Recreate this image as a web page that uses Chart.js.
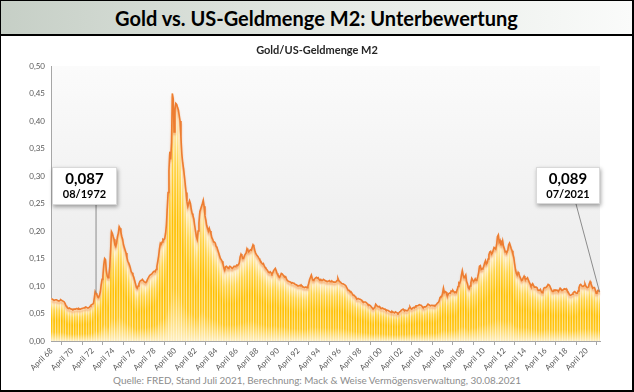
<!DOCTYPE html>
<html><head><meta charset="utf-8">
<script src="https://cdn.jsdelivr.net/npm/chart.js@4"></script>
<style>
html,body{margin:0;padding:0;background:#fff;}
#frame{position:relative;width:631px;height:389px;border:1px solid #000;border-right-width:2px;border-bottom-width:2px;overflow:hidden;font-family:Lato,'Open Sans',sans-serif;background:#fff;}
#header{position:absolute;left:0;top:0;width:631px;height:33px;border-bottom:2px solid #000;background:linear-gradient(90deg,#c6cfc6 0%,#e3e8e3 50%,#fafbfa 100%);text-align:center;line-height:34px;font-weight:700;font-size:20px;color:#000;}
#chartBox{position:absolute;left:0;top:35px;width:632px;height:335px;}
#source{position:absolute;left:0;top:373px;width:632px;text-align:center;font-size:9.9px;color:#8c8c8c;}
</style>
</head><body>
<div id="frame">
  <div id="header">Gold vs. US-Geldmenge M2: Unterbewertung</div>
  <div id="chartBox"><canvas id="c"></canvas></div>
  <div id="source">Quelle: FRED, Stand Juli 2021, Berechnung: Mack &amp; Weise Vermögensverwaltung, 30.08.2021</div>
</div>
<script>
// Monthly ratio gold price / US money supply M2, April 1968 – July 2021
const ratio1968to1979 = [
  0.077,0.076,0.075,0.074,0.074,0.075,0.075,0.074,0.073,
  0.073,0.074,0.075,0.074,0.073,0.072,0.071,0.068,0.064,0.062,0.060,0.059,
  0.060,0.059,0.058,0.058,0.057,0.058,0.058,0.058,0.059,0.059,0.058,0.059,
  0.058,0.058,0.059,0.059,0.060,0.060,0.061,0.062,0.061,0.060,0.060,0.061,
  0.063,0.065,0.066,0.067,0.068,0.078,0.090,0.087,0.084,0.080,0.079,0.083,
  0.089,0.102,0.112,0.118,0.138,0.150,0.148,0.128,0.118,0.115,0.120,0.135,
  0.165,0.199,0.196,0.190,0.185,0.175,0.172,0.178,0.190,0.196,0.208,0.205,
  0.198,0.190,0.185,0.175,0.170,0.165,0.160,0.152,0.145,0.142,0.138,0.133,
  0.126,0.124,0.120,0.116,0.110,0.104,0.098,0.096,0.100,0.104,0.108,0.110,
  0.110,0.112,0.110,0.108,0.107,0.106,0.108,0.112,0.115,0.118,0.120,0.120,
  0.122,0.124,0.126,0.127,0.126,0.130,0.136,0.145,0.155,0.168,0.178,0.176,
  0.180,0.185,0.184,0.186,0.195,0.210,0.240,0.270,0.310,0.344,0.330,0.360
];
const ratio1980s = [
  0.450,0.440,0.380,0.420,0.432,0.430,0.425,0.420,0.410,0.400,0.370,0.340,
  0.325,0.314,0.300,0.285,0.270,0.253,0.245,0.250,0.255,0.250,0.240,0.232,
  0.228,0.222,0.210,0.200,0.190,0.185,0.200,0.215,0.235,0.240,0.245,0.250,
  0.256,0.245,0.228,0.220,0.210,0.205,0.200,0.205,0.200,0.195,0.188,0.185,
  0.180,0.180,0.178,0.172,0.170,0.165,0.160,0.155,0.150,0.148,0.145,0.140,
  0.133,0.129,0.135,0.136,0.134,0.132,0.134,0.136,0.135,0.133,0.132,0.134,
  0.136,0.135,0.136,0.138,0.137,0.139,0.142,0.153,0.158,0.155,0.150,0.150,
  0.155,0.158,0.160,0.168,0.165,0.162,0.164,0.166,0.165,0.170,0.175,0.172,
  0.165,0.160,0.157,0.155,0.153,0.150,0.147,0.145,0.142,0.140,0.141,0.137,
  0.134,0.132,0.130,0.128,0.125,0.124,0.126,0.124,0.122,0.124,0.128,0.130
];
const ratio1990s = [
  0.132,0.128,0.123,0.120,0.118,0.116,0.119,0.123,0.122,0.120,0.118,0.116,
  0.117,0.113,0.110,0.109,0.108,0.108,0.107,0.105,0.106,0.105,0.105,0.103,
  0.103,0.102,0.100,0.100,0.101,0.100,0.102,0.100,0.099,0.098,0.097,0.098,
  0.098,0.097,0.100,0.105,0.112,0.116,0.120,0.114,0.110,0.111,0.113,0.115,
  0.116,0.114,0.115,0.112,0.111,0.112,0.110,0.110,0.112,0.111,0.110,0.109,
  0.109,0.108,0.109,0.110,0.108,0.108,0.109,0.108,0.107,0.107,0.107,0.108,
  0.110,0.114,0.110,0.108,0.107,0.105,0.104,0.104,0.103,0.102,0.101,0.098,
  0.095,0.092,0.092,0.090,0.090,0.088,0.085,0.083,0.083,0.081,0.079,0.076,
  0.077,0.077,0.076,0.076,0.075,0.073,0.072,0.070,0.071,0.071,0.070,0.068,
  0.066,0.066,0.065,0.064,0.062,0.060,0.058,0.058,0.061,0.067,0.065,0.063
];
const ratio2000s = [
  0.062,0.063,0.061,0.060,0.059,0.060,0.059,0.058,0.058,0.056,0.056,0.056,
  0.055,0.054,0.053,0.052,0.054,0.053,0.052,0.051,0.053,0.052,0.051,0.050,
  0.051,0.053,0.054,0.056,0.057,0.058,0.056,0.055,0.056,0.055,0.055,0.057,
  0.060,0.062,0.059,0.058,0.060,0.061,0.060,0.062,0.064,0.064,0.064,0.065,
  0.066,0.065,0.065,0.063,0.061,0.061,0.062,0.062,0.063,0.065,0.067,0.066,
  0.065,0.064,0.065,0.065,0.064,0.065,0.064,0.065,0.067,0.069,0.070,0.073,
  0.079,0.081,0.081,0.087,0.096,0.088,0.090,0.089,0.084,0.083,0.086,0.087,
  0.087,0.091,0.090,0.092,0.090,0.088,0.089,0.088,0.093,0.099,0.106,0.105,
  0.110,0.120,0.128,0.120,0.115,0.117,0.120,0.108,0.104,0.097,0.095,0.100,
  0.106,0.114,0.111,0.108,0.110,0.113,0.110,0.111,0.117,0.124,0.136,0.137
];
const ratio2010s = [
  0.130,0.131,0.132,0.136,0.142,0.146,0.140,0.142,0.149,0.157,0.162,0.163,
  0.158,0.160,0.165,0.170,0.170,0.167,0.175,0.190,0.193,0.180,0.183,0.175,
  0.175,0.182,0.172,0.168,0.162,0.163,0.162,0.165,0.175,0.178,0.173,0.168,
  0.164,0.158,0.152,0.140,0.130,0.123,0.120,0.125,0.122,0.117,0.114,0.110,
  0.111,0.115,0.118,0.114,0.113,0.113,0.115,0.111,0.107,0.104,0.100,0.101,
  0.104,0.101,0.098,0.098,0.098,0.097,0.093,0.092,0.092,0.094,0.090,0.088,
  0.090,0.096,0.097,0.097,0.098,0.100,0.103,0.102,0.100,0.096,0.093,0.090,
  0.090,0.093,0.092,0.093,0.092,0.092,0.090,0.093,0.096,0.094,0.093,0.092,
  0.094,0.095,0.094,0.095,0.092,0.090,0.087,0.084,0.083,0.084,0.085,0.087,
  0.089,0.090,0.088,0.087,0.087,0.091,0.097,0.102,0.103,0.101,0.099,0.099
];
const ratio2020s = [
  0.101,0.104,0.100,0.098,0.097,0.098,0.104,0.108,0.104,0.100,0.096,0.097,
  0.097,0.093,0.087,0.088,0.092,0.092,0.089
];
const values = [].concat(ratio1968to1979, ratio1980s, ratio1990s, ratio2000s, ratio2010s, ratio2020s);

const monthNames = ['Januar','Februar','März','April','Mai','Juni','Juli','August','September','Oktober','November','Dezember'];
const startYear = 1968, startMonth = 3; // April 1968
const categories = values.map((v, i) => {
  const m = (startMonth + i) % 12;
  const y = startYear + Math.floor((startMonth + i) / 12);
  return monthNames[m] + ' ' + String(y % 100).padStart(2, '0');
});
const tickEvery = 24; // "April 68", "April 70", ...

const annotations = [
  { label: 'August 72', value: '0,087', date: '08/1972', box: { x: 51, y: 131, w: 65, h: 38 }, anchor: 'point' },
  { label: 'Juli 21',   value: '0,089', date: '07/2021', box: { x: 535, y: 131, w: 64, h: 37 }, anchor: { x: 575, y: 168 } }
];

const ORANGE = '#ED7D31';

const bgPlugin = {
  id: 'plotBg',
  beforeDraw(chart) {
    const { ctx, chartArea: a } = chart;
    const g = ctx.createLinearGradient(0, a.top, 0, a.bottom);
    g.addColorStop(0, '#fbfbfb');
    g.addColorStop(0.6, '#efefef');
    g.addColorStop(1, '#ececec');
    ctx.save();
    ctx.fillStyle = g;
    ctx.fillRect(a.left, a.top, a.right - a.left, a.bottom - a.top);
    ctx.restore();
  }
};

const shadowPlugin = {
  id: 'lineShadow',
  beforeDatasetDraw(chart, args) {
    if (args.meta.type === 'line' && chart.data.datasets[args.index].borderWidth > 0) {
      const ctx = chart.ctx;
      ctx.save();
      ctx.shadowColor = 'rgba(237,125,49,0.5)';
      ctx.shadowBlur = 2;
      ctx.shadowOffsetY = 2.5;
    }
  },
  afterDatasetDraw(chart, args) {
    if (args.meta.type === 'line' && chart.data.datasets[args.index].borderWidth > 0) {
      chart.ctx.restore();
    }
  }
};

const annotationPlugin = {
  id: 'valueBoxes',
  afterDatasetsDraw(chart) {
    const ctx = chart.ctx;
    const meta = chart.getDatasetMeta(2);
    annotations.forEach(an => {
      const idx = categories.indexOf(an.label);
      const pt = meta.data[idx];
      const b = an.box;
      const ax = an.anchor === 'point' ? pt.x : an.anchor.x;
      const ay = an.anchor === 'point' ? b.y + b.h : an.anchor.y;
      ctx.save();
      ctx.strokeStyle = '#8c8c8c';
      ctx.lineWidth = 1;
      ctx.beginPath();
      ctx.moveTo(ax, ay);
      ctx.lineTo(pt.x, pt.y);
      ctx.stroke();
      ctx.shadowColor = 'rgba(0,0,0,0.35)';
      ctx.shadowBlur = 4;
      ctx.shadowOffsetX = 1;
      ctx.shadowOffsetY = 2;
      ctx.fillStyle = '#ffffff';
      ctx.fillRect(b.x, b.y, b.w, b.h);
      ctx.shadowColor = 'transparent';
      ctx.strokeStyle = '#d9d9d9';
      ctx.strokeRect(b.x + 0.5, b.y + 0.5, b.w - 1, b.h - 1);
      ctx.fillStyle = '#000';
      ctx.textAlign = 'center';
      ctx.textBaseline = 'middle';
      ctx.font = 'bold 15px Lato, "Open Sans", sans-serif';
      ctx.fillText(an.value, b.x + b.w / 2, b.y + 12);
      ctx.font = 'bold 11px Lato, "Open Sans", sans-serif';
      ctx.fillText(an.date, b.x + b.w / 2, b.y + 27);
      ctx.restore();
    });
  }
};

function barGradient(context) {
  const chart = context.chart;
  const ys = chart.scales.y;
  if (!chart.chartArea || !ys || context.raw == null) return '#FFC000';
  const top = ys.getPixelForValue(context.raw);
  const base = ys.getPixelForValue(0);
  if (!(base > top)) return '#FFC000';
  const pale = context.dataIndex % 3 === 2;
  const g = chart.ctx.createLinearGradient(0, top, 0, base);
  if (pale) {
    g.addColorStop(0, '#fde3c6');
    g.addColorStop(0.1, '#fff8e6');
    g.addColorStop(0.45, '#ffe9a6');
    g.addColorStop(0.8, '#ffeeb8');
    g.addColorStop(1, '#fff8e4');
  } else {
    g.addColorStop(0, '#fbd3a8');
    g.addColorStop(0.06, '#ffefc6');
    g.addColorStop(0.25, '#ffd344');
    g.addColorStop(0.5, '#ffc000');
    g.addColorStop(0.78, '#ffc518');
    g.addColorStop(1, '#ffefbf');
  }
  return g;
}

Chart.defaults.font.family = 'Lato, "Open Sans", sans-serif';

new Chart(document.getElementById('c'), {
  data: {
    labels: categories,
    datasets: [
      { type: 'line', data: values, borderWidth: 0, pointRadius: 0, fill: 'origin', backgroundColor: '#fff4da', order: 3 },
      { type: 'bar', data: values, backgroundColor: barGradient, borderWidth: 0, barPercentage: 1, categoryPercentage: 1, order: 2 },
      { type: 'line', data: values, borderColor: ORANGE, borderWidth: 1.6, pointRadius: 0, tension: 0, fill: false, order: 1 }
    ]
  },
  options: {
    responsive: true,
    maintainAspectRatio: false,
    animation: false,
    events: [],
    layout: { padding: 0 },
    plugins: {
      legend: { display: false },
      tooltip: { enabled: false },
      title: {
        display: true,
        text: 'Gold/US-Geldmenge M2',
        color: '#262626',
        font: { size: 11, weight: 'bold' },
        padding: { top: 8, bottom: 8.8 }
      }
    },
    scales: {
      x: {
        type: 'category',
        offset: true,
        grid: { display: true, offset: true, drawOnChartArea: false, drawTicks: true, tickLength: 4, color: '#a6a6a6' },
        border: { display: true, color: '#a6a6a6' },
        ticks: { autoSkip: false, maxRotation: 45, minRotation: 45, color: '#595959', font: { size: 8 }, padding: 1 },
        afterBuildTicks: s => { s.ticks = s.ticks.filter(t => t.value % tickEvery === 0); },
        afterFit: s => { s.height = 30; }
      },
      y: {
        min: 0, max: 0.5,
        grid: { display: false, drawTicks: false },
        border: { display: true, color: '#a6a6a6' },
        ticks: { stepSize: 0.05, color: '#595959', font: { size: 8 }, padding: 6,
          callback: v => v.toFixed(2).replace('.', ',') },
        afterFit: s => { s.width = 50; }
      },
      yRight: {
        position: 'right',
        display: true,
        grid: { display: false, drawTicks: false },
        border: { display: false },
        ticks: { display: false },
        afterFit: s => { s.width = 33; }
      }
    }
  },
  plugins: [bgPlugin, shadowPlugin, annotationPlugin]
});
</script>
</body></html>
